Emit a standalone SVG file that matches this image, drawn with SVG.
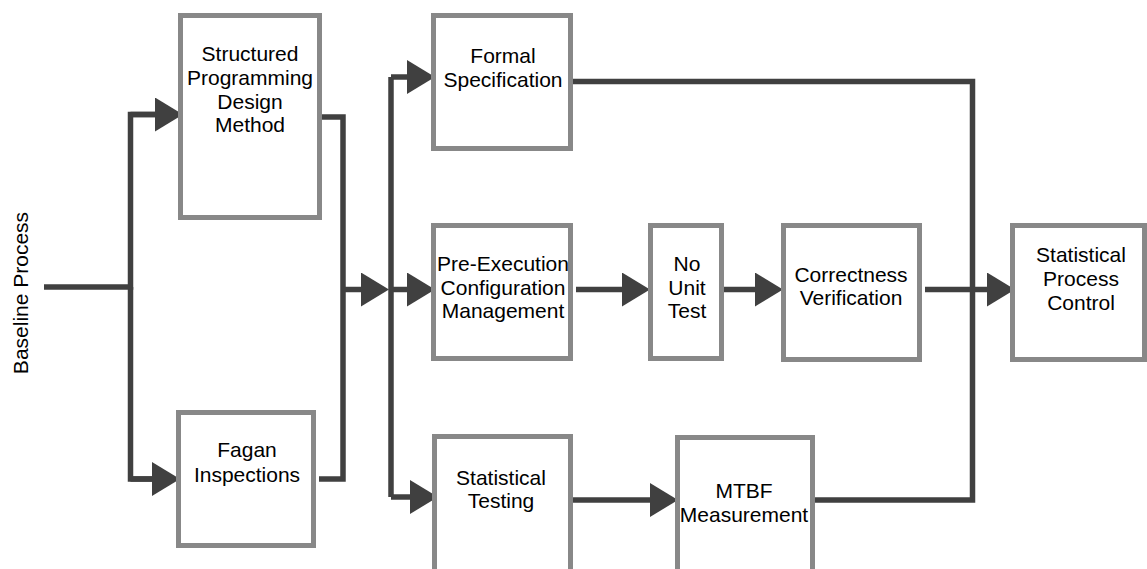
<svg xmlns="http://www.w3.org/2000/svg" width="1147" height="569" viewBox="0 0 1147 569">
<style>
.box{fill:#fff;stroke:#888;stroke-width:5}
.t{font-family:"Liberation Sans",Arial,sans-serif;font-size:21px;fill:#000;text-anchor:middle}
.c{fill:none;stroke:#404040;stroke-width:5.5;stroke-linejoin:miter}
.a{marker-end:url(#arr)}
</style>
<defs>
<marker id="arr" markerUnits="userSpaceOnUse" markerWidth="28" markerHeight="34" refX="3" refY="17" orient="auto" viewBox="0 0 28 34">
<path d="M0,0 L28,17 L0,34 z" fill="#404040"/>
</marker>
</defs>
<rect width="1147" height="569" fill="#fff"/>
<text class="t" transform="rotate(-90 28 293)" x="28" y="293">Baseline Process</text>
<g id="connectors">
<path class="c" d="M44,287 H130.5 V114.5 H158"/>
<path class="c a" d="M130.5,114.5 H158"/>
<path class="c" d="M130.5,287 V479 H155"/>
<path class="c a" d="M130.5,479 H155"/>
<path class="c" d="M322,117 H343 V479 H319"/>
<path class="c a" d="M343,289.5 H364"/>
<path class="c" d="M391,497 V77"/>
<path class="c a" d="M391,77 H410"/>
<path class="c a" d="M391,289.5 H410"/>
<path class="c a" d="M391,497 H413"/>
<path class="c a" d="M576,289.5 H625"/>
<path class="c a" d="M723,289.5 H758"/>
<path class="c" d="M573,81.5 H972.5 V500 H815"/>
<path class="c a" d="M925,289.5 H990"/>
<path class="c a" d="M573,500 H653"/>
</g>
<g id="structured">
<rect class="box" x="180.5" y="15.5" width="139" height="202"/>
<text class="t" x="250" y="61">Structured</text>
<text class="t" x="250" y="85">Programming</text>
<text class="t" x="250" y="109">Design</text>
<text class="t" x="250" y="132">Method</text>
</g>
<g id="fagan">
<rect class="box" x="178.5" y="412.5" width="135" height="133"/>
<text class="t" x="247" y="457">Fagan</text>
<text class="t" x="247" y="482">Inspections</text>
</g>
<g id="formal">
<rect class="box" x="433.5" y="15.5" width="137" height="133"/>
<text class="t" x="503" y="63">Formal</text>
<text class="t" x="503" y="87">Specification</text>
</g>
<g id="preexec">
<rect class="box" x="433.5" y="225.5" width="137" height="133"/>
<text class="t" x="503" y="271">Pre-Execution</text>
<text class="t" x="503" y="294.5">Configuration</text>
<text class="t" x="503" y="318">Management</text>
</g>
<g id="nounit">
<rect class="box" x="650.5" y="225.5" width="71" height="133"/>
<text class="t" x="687" y="271">No</text>
<text class="t" x="687" y="294.5">Unit</text>
<text class="t" x="687" y="318">Test</text>
</g>
<g id="correctness">
<rect class="box" x="783.5" y="225.5" width="136" height="134"/>
<text class="t" x="851" y="282">Correctness</text>
<text class="t" x="851" y="305">Verification</text>
</g>
<g id="spc">
<rect class="box" x="1012.5" y="225.5" width="132" height="134"/>
<text class="t" x="1081" y="262">Statistical</text>
<text class="t" x="1081" y="286">Process</text>
<text class="t" x="1081" y="310">Control</text>
</g>
<g id="stattest">
<rect class="box" x="434.5" y="436.5" width="136" height="140"/>
<text class="t" x="501" y="485">Statistical</text>
<text class="t" x="501" y="508">Testing</text>
</g>
<g id="mtbf">
<rect class="box" x="677.5" y="437.5" width="135" height="140"/>
<text class="t" x="744" y="498">MTBF</text>
<text class="t" x="744" y="522">Measurement</text>
</g>
</svg>
